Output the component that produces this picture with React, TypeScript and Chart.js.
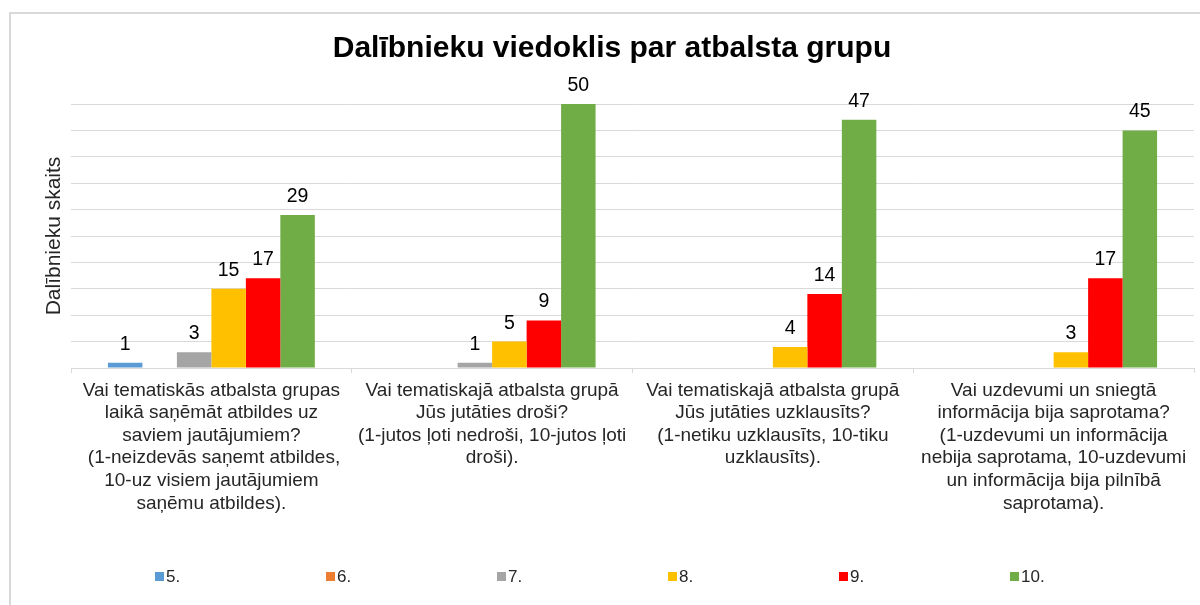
import React, { useEffect, useRef } from "react";
import { Chart, registerables } from "chart.js";

Chart.register(...registerables);

const TITLE = "Dalībnieku viedoklis par atbalsta grupu";
const Y_TITLE = "Dalībnieku skaits";

const categories: string[][] = [
  [
    "Vai tematiskās atbalsta grupas",
    "laikā saņēmāt atbildes uz",
    "saviem jautājumiem?",
    " (1-neizdevās saņemt atbildes,",
    "10-uz visiem jautājumiem",
    "saņēmu atbildes).",
  ],
  [
    "Vai tematiskajā atbalsta grupā",
    "Jūs jutāties droši?",
    "(1-jutos ļoti nedroši, 10-jutos ļoti",
    "droši).",
  ],
  [
    "Vai tematiskajā atbalsta grupā",
    "Jūs jutāties uzklausīts?",
    "(1-netiku uzklausīts, 10-tiku",
    "uzklausīts).",
  ],
  [
    "Vai uzdevumi un sniegtā",
    "informācija bija saprotama?",
    "(1-uzdevumi un informācija",
    "nebija saprotama, 10-uzdevumi",
    "un informācija bija pilnībā",
    "saprotama).",
  ],
];

const seriesNames = ["5.", "6.", "7.", "8.", "9.", "10."];
const s5: (number | null)[] = [1, null, null, null];
const s6: (number | null)[] = [null, null, null, null];
const s7: (number | null)[] = [3, 1, null, null];
const s8: (number | null)[] = [15, 5, 4, 3];
const s9: (number | null)[] = [17, 9, 14, 17];
const s10: (number | null)[] = [29, 50, 47, 45];
const seriesColors = ["#5B9BD5", "#ED7D31", "#A5A5A5", "#FFC000", "#FF0000", "#70AD47"];

const FONT = "'Liberation Sans', Arial, sans-serif";
const TEXT = "#262626";
const GRID = "#d9d9d9";

const frameAndLabels = {
  id: "frameAndLabels",
  beforeDraw(chart: any) {
    const ctx = chart.ctx;
    ctx.save();
    ctx.fillStyle = "#fff";
    ctx.fillRect(0, 0, chart.width, chart.height);
    ctx.fillStyle = GRID;
    ctx.fillRect(10, 12, chart.width - 10, 2);
    ctx.fillRect(9, 12, 2, chart.height - 12);
    ctx.restore();
  },
  afterDatasetsDraw(chart: any) {
    const ctx = chart.ctx;
    ctx.save();
    ctx.font = `19.5px ${FONT}`;
    ctx.fillStyle = "#000";
    ctx.textAlign = "center";
    ctx.textBaseline = "alphabetic";
    chart.data.datasets.forEach((ds: any, i: number) => {
      const meta = chart.getDatasetMeta(i);
      meta.data.forEach((el: any, j: number) => {
        const v = ds.data[j];
        if (v === null || v === undefined) return;
        ctx.fillText(String(v), el.x, el.y - 13);
      });
    });
    ctx.restore();
  },
  afterDraw(chart: any) {
    const ctx = chart.ctx;
    ctx.save();
    // title
    ctx.font = `bold 30px ${FONT}`;
    ctx.fillStyle = "#000";
    ctx.textAlign = "center";
    ctx.textBaseline = "middle";
    ctx.fillText(TITLE, 612, 49);
    // legend
    ctx.font = `17px ${FONT}`;
    ctx.textBaseline = "middle";
    ctx.textAlign = "left";
    const y = 577;
    const spacing = 171;
    const start = 155;
    chart.data.datasets.forEach((ds: any, i: number) => {
      const x = start + i * spacing;
      ctx.fillStyle = ds.backgroundColor;
      ctx.fillRect(x, y - 5, 9, 9);
      ctx.fillStyle = TEXT;
      ctx.fillText(ds.label, x + 11, y);
    });
    ctx.restore();
  },
};

export default function App() {
  const ref = useRef<HTMLCanvasElement | null>(null);

  useEffect(() => {
    if (!ref.current) return;
    const seriesData = [s5, s6, s7, s8, s9, s10];
    const chart = new Chart(ref.current, {
      type: "bar",
      data: {
        labels: categories,
        datasets: seriesNames.map((name, i) => ({
          label: name,
          data: seriesData[i],
          backgroundColor: seriesColors[i],
          borderWidth: 0,
          categoryPercentage: 0.737,
          barPercentage: 1,
        })),
      },
      options: {
        responsive: false,
        animation: false,
        layout: { padding: { left: 38, right: 6, top: 104, bottom: 0 } },
        plugins: {
          legend: { display: false },
          tooltip: { enabled: false },
          title: { display: false },
        },
        scales: {
          x: {
            grid: {
              display: true,
              drawOnChartArea: false,
              drawTicks: true,
              tickLength: 5,
              color: GRID,
              offset: true,
            },
            border: { display: true, color: GRID, width: 1 },
            ticks: {
              autoSkip: false,
              maxRotation: 0,
              minRotation: 0,
              padding: 6,
              color: TEXT,
              font: { family: FONT, size: 19, lineHeight: 1.19 },
            },
            afterFit: (s: any) => {
              s.height = 237;
            },
          },
          y: {
            min: 0,
            max: 50,
            ticks: { display: false, stepSize: 5 },
            grid: { color: GRID, drawTicks: false },
            border: { display: false },
            title: {
              display: true,
              text: Y_TITLE,
              color: TEXT,
              font: { family: FONT, size: 21 },
              padding: { top: 4, bottom: 4 },
            },
            afterFit: (s: any) => {
              s.width = 33;
            },
          },
        },
      },
      plugins: [frameAndLabels],
    });
    return () => chart.destroy();
  }, []);

  return (
    <div style={{ position: "absolute", left: 0, top: 0, width: 1200, height: 605 }}>
      <canvas ref={ref} width={1200} height={605} style={{ display: "block" }} />
    </div>
  );
}
